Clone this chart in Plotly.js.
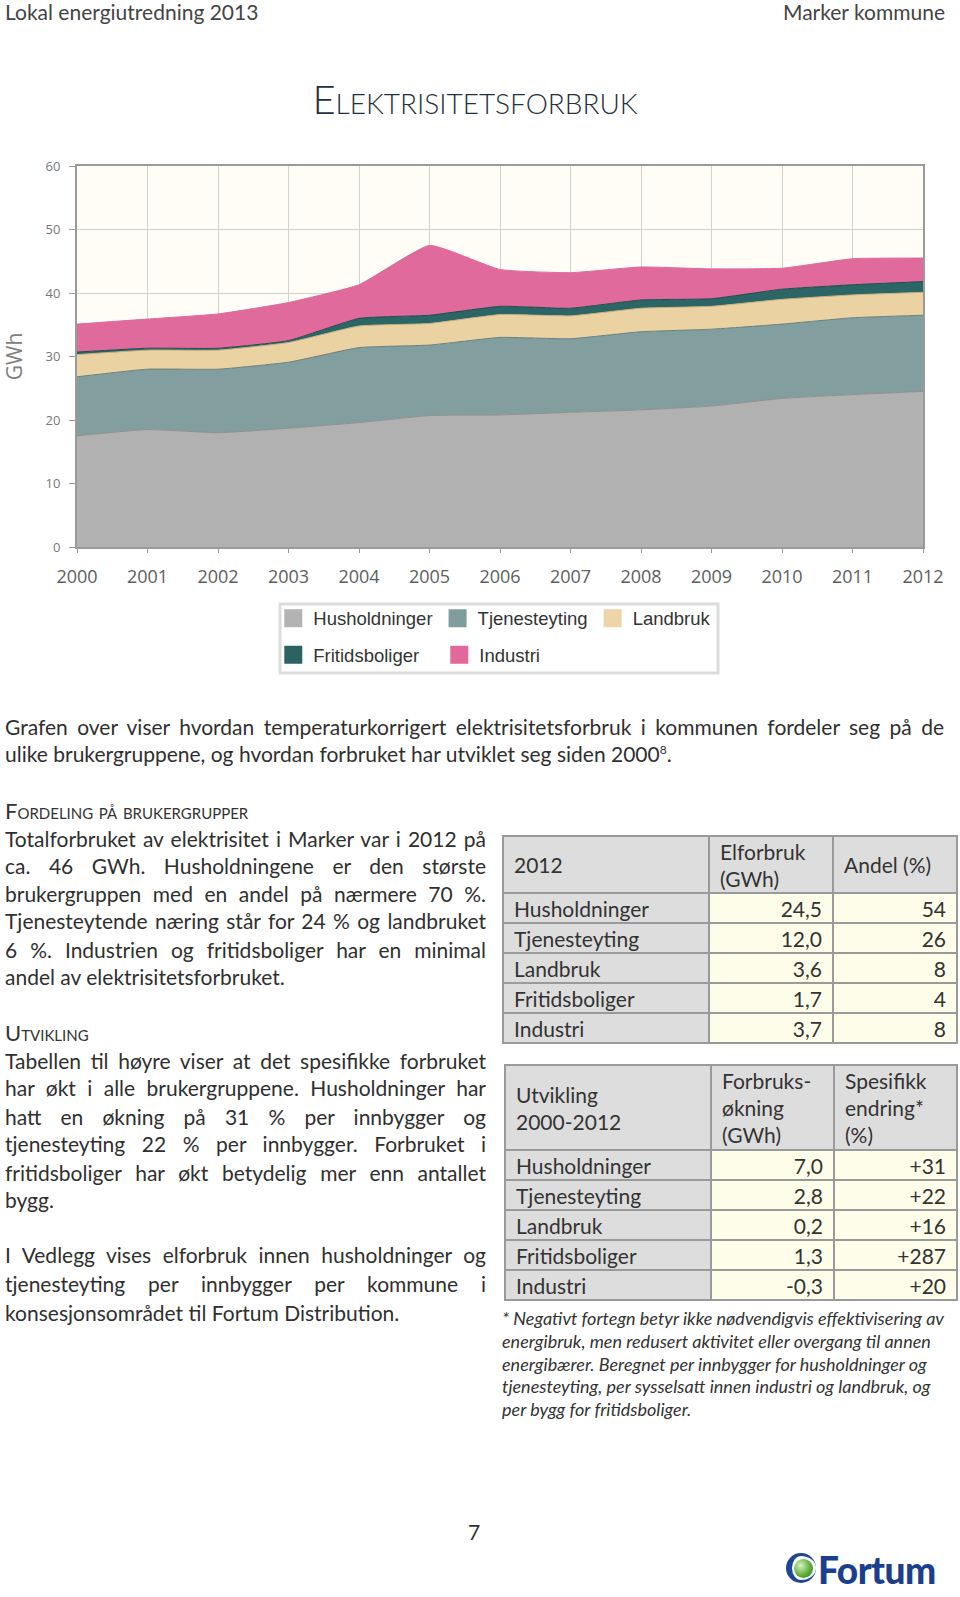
<!DOCTYPE html>
<html>
<head>
<meta charset="utf-8">
<script src="https://cdn.plot.ly/plotly-3.0.1.min.js"></script>
<style>
html,body{margin:0;padding:0;background:#fff;}
body{width:960px;height:1597px;position:relative;overflow:hidden;font-family:Lato,"Open Sans",sans-serif;color:#2f2f2f;}
.t{position:absolute;white-space:nowrap;font-size:21px;line-height:28px;height:28px;}
.j{position:absolute;font-size:21px;line-height:28px;height:28px;text-align:justify;text-align-last:justify;white-space:normal;overflow:hidden;}
.sc{font-variant:small-caps;}
table.dt{position:absolute;border-collapse:collapse;font-family:Lato,sans-serif;font-size:21px;color:#333;}
table.dt td{border:2px solid #9a9a9a;padding:0 10px;line-height:27px;}
table.dt td.h{background:#dddddd;vertical-align:middle;text-align:left;}
table.dt td.l{background:#dddddd;text-align:left;}
table.dt td.n{background:#fdfde9;text-align:right;}
.fn{position:absolute;white-space:nowrap;font-style:italic;font-size:18px;line-height:22.7px;color:#333;}
</style>
</head>
<body>
<div class="t" style="left:5px;top:-2px;color:#444;">Lokal energiutredning 2013</div>
<div class="t" style="right:15px;top:-2px;color:#444;">Marker kommune</div>
<div class="t sc" style="left:0;width:950px;text-align:center;top:74px;height:50px;line-height:50px;font-size:40px;font-weight:300;color:#25303e;">Elektrisitetsforbruk</div>

<div id="chart" style="position:absolute;left:0;top:140px;width:960px;height:550px;"></div>

<div class="j" style="left:5px;top:713px;width:939px;">Grafen over viser hvordan temperaturkorrigert elektrisitetsforbruk i kommunen fordeler seg på de</div>
<div class="t" style="left:5px;top:740px;">ulike brukergruppene, og hvordan forbruket har utviklet seg siden 2000<sup style="font-size:12px;line-height:0;">8</sup>.</div>

<div class="t sc" style="left:5px;top:797px;font-size:22px;color:#333;">Fordeling på brukergrupper</div>
<div class="j" style="left:5px;top:825px;width:481px;">Totalforbruket av elektrisitet i Marker var i 2012 på</div>
<div class="j" style="left:5px;top:852px;width:481px;">ca. 46 GWh. Husholdningene er den største</div>
<div class="j" style="left:5px;top:880px;width:481px;">brukergruppen med en andel på nærmere 70 %.</div>
<div class="j" style="left:5px;top:907px;width:481px;">Tjenesteytende næring står for 24 % og landbruket</div>
<div class="j" style="left:5px;top:936px;width:481px;">6 %. Industrien og fritidsboliger har en minimal</div>
<div class="t" style="left:5px;top:963px;">andel av elektrisitetsforbruket.</div>

<div class="t sc" style="left:5px;top:1019px;font-size:22px;color:#333;">Utvikling</div>
<div class="j" style="left:5px;top:1047px;width:481px;">Tabellen til høyre viser at det spesifikke forbruket</div>
<div class="j" style="left:5px;top:1074px;width:481px;">har økt i alle brukergruppene. Husholdninger har</div>
<div class="j" style="left:5px;top:1103px;width:481px;">hatt en økning på 31 % per innbygger og</div>
<div class="j" style="left:5px;top:1130px;width:481px;">tjenesteyting 22 % per innbygger. Forbruket i</div>
<div class="j" style="left:5px;top:1159px;width:481px;">fritidsboliger har økt betydelig mer enn antallet</div>
<div class="t" style="left:5px;top:1186px;">bygg.</div>
<div class="j" style="left:5px;top:1241px;width:481px;">I Vedlegg vises elforbruk innen husholdninger og</div>
<div class="j" style="left:5px;top:1270px;width:481px;">tjenesteyting per innbygger per kommune i</div>
<div class="t" style="left:5px;top:1299px;">konsesjonsområdet til Fortum Distribution.</div>

<table class="dt" id="tab1" style="left:502px;top:835px;"></table>
<table class="dt" id="tab2" style="left:504px;top:1064px;"></table>

<div class="fn" style="left:502px;top:1307px;">* Negativt fortegn betyr ikke nødvendigvis effektivisering av</div>
<div class="fn" style="left:502px;top:1330px;">energibruk, men redusert aktivitet eller overgang til annen</div>
<div class="fn" style="left:502px;top:1353px;">energibærer. Beregnet per innbygger for husholdninger og</div>
<div class="fn" style="left:502px;top:1375px;">tjenesteyting, per sysselsatt innen industri og landbruk, og</div>
<div class="fn" style="left:502px;top:1398px;">per bygg for fritidsboliger.</div>

<div class="t" style="left:468px;top:1518px;">7</div>

<div style="position:absolute;left:786px;top:1553px;width:34px;height:34px;">
  <div style="position:absolute;left:0;top:0;width:30px;height:30px;border-radius:50%;border-left:6px solid #1d4697;border-top:3px solid #1d4697;border-bottom:3px solid #1d4697;border-right:0 solid transparent;box-sizing:border-box;"></div>
  <div style="position:absolute;left:8px;top:6px;width:19px;height:19px;border-radius:50%;background:radial-gradient(circle at 35% 35%,#d9f2c0,#5fae3c 55%,#2e7a25);"></div>
</div>
<div class="t" style="left:818px;top:1550px;height:40px;line-height:40px;font-size:37px;font-weight:900;color:#1b3f8e;letter-spacing:-0.5px;">Fortum</div>

<script>
// ---- chart data (GWh) ----
const years = [2000, 2001, 2002, 2003, 2004, 2005, 2006, 2007, 2008, 2009, 2010, 2011, 2012];
const husholdninger  = [17.5, 18.5, 18.0, 18.7, 19.6, 20.7, 20.8, 21.2, 21.6, 22.2, 23.4, 24.0, 24.5];
const tjenesteyting  = [9.3, 9.5, 10.0, 10.4, 11.8, 11.1, 12.2, 11.6, 12.3, 12.1, 11.7, 12.1, 12.0];
const landbruk       = [3.5, 3.0, 3.0, 3.1, 3.4, 3.4, 3.6, 3.6, 3.7, 3.6, 3.9, 3.6, 3.6];
const fritidsboliger = [0.4, 0.3, 0.3, 0.3, 1.2, 1.3, 1.3, 1.2, 1.3, 1.2, 1.6, 1.6, 1.7];
const industri       = [4.4, 4.6, 5.4, 6.0, 5.3, 11.0, 5.8, 5.6, 5.2, 4.7, 3.3, 4.1, 3.7];
const seriesNames = ['Husholdninger', 'Tjenesteyting', 'Landbruk', 'Fritidsboliger', 'Industri'];
const yTicks = [0, 10, 20, 30, 40, 50, 60];

// ---- table data ----
const tab1Header = ['2012', 'Elforbruk<br>(GWh)', 'Andel (%)'];
const tab1Elforbruk = ['24,5', '12,0', '3,6', '1,7', '3,7'];
const tab1Andel = ['54', '26', '8', '4', '8'];
const tab2Header = ['Utvikling<br>2000-2012', 'Forbruks-<br>økning<br>(GWh)', 'Spesifikk<br>endring*<br>(%)'];
const tab2Okning = ['7,0', '2,8', '0,2', '1,3', '-0,3'];
const tab2Endring = ['+31', '+22', '+16', '+287', '+20'];

const fillColors = ['#b1b1b1', '#839e9e', '#ebd2a3', '#2c6565', '#df6a9b'];
const lineColors = ['#8f8f8f', '#667f7f', '#c9b07f', '#1d4c4c', '#df6a9b'];
const legendColors = ['#b3b3b3', '#809d9d', '#eed5a8', '#2b6363', '#e0689b'];
const values = [husholdninger, tjenesteyting, landbruk, fritidsboliger, industri];

const traces = [];
values.forEach((v, i) => {
  traces.push({
    type: 'scatter', x: years, y: v, name: seriesNames[i],
    stackgroup: 'one', mode: 'lines',
    line: {shape: 'spline', smoothing: 0.4, width: 1, color: lineColors[i]},
    fillcolor: fillColors[i], showlegend: false, hoverinfo: 'skip'
  });
});
values.forEach((v, i) => {
  traces.push({
    type: 'scatter', x: [null], y: [null], name: seriesNames[i], mode: 'markers',
    marker: {symbol: 'square', size: 16, color: legendColors[i], line: {color: legendColors[i], width: 2}},
    legend: i < 3 ? 'legend' : 'legend2', showlegend: true, hoverinfo: 'skip'
  });
});

const legFont = {family: 'Liberation Sans, Arial, sans-serif', size: 18.5, color: '#333'};
const layout = {
  width: 960, height: 550,
  margin: {l: 77, r: 37, t: 26, b: 143},
  paper_bgcolor: 'rgba(0,0,0,0)',
  plot_bgcolor: '#fffdf6',
  xaxis: {
    range: [2000, 2012], tickvals: years, ticktext: years.map(String),
    showgrid: true, gridcolor: '#d2d2d2', gridwidth: 1,
    showline: true, mirror: true, linecolor: '#9a9a9a', linewidth: 2,
    ticks: 'outside', ticklen: 4, tickcolor: '#9a9a9a', ticklabelstandoff: 8,
    tickfont: {family: 'Open Sans, sans-serif', size: 18, color: '#5e5e5e'},
    zeroline: false, fixedrange: true
  },
  yaxis: {
    range: [0, 60], tickvals: yTicks,
    showgrid: true, gridcolor: '#d2d2d2', gridwidth: 1,
    showline: true, mirror: true, linecolor: '#9a9a9a', linewidth: 2,
    ticks: 'outside', ticklen: 6, tickcolor: '#9a9a9a', ticklabelstandoff: 6,
    tickfont: {family: 'Open Sans, sans-serif', size: 13, color: '#777'},
    title: {text: 'GWh', font: {family: 'Open Sans, sans-serif', size: 21, color: '#808080'}, standoff: 20},
    zeroline: false, fixedrange: true
  },
  legend: {orientation: 'h', x: 0.232, xanchor: 'left', y: -0.188, yanchor: 'middle', traceorder: 'normal',
           font: legFont, bgcolor: 'rgba(0,0,0,0)', borderwidth: 0},
  legend2: {orientation: 'h', x: 0.232, xanchor: 'left', y: -0.284, yanchor: 'middle', traceorder: 'normal',
           entrywidth: 121, font: legFont, bgcolor: 'rgba(0,0,0,0)', borderwidth: 0},
  shapes: [{type: 'rect', xref: 'paper', yref: 'paper', x0: 0.24, x1: 0.7577, y0: -0.1496, y1: -0.3307,
            line: {color: '#dcdcdc', width: 3}, fillcolor: '#ffffff', layer: 'below'}],
  showlegend: true
};
Plotly.newPlot('chart', traces, layout, {displayModeBar: false, staticPlot: true});

// ---- tables ----
function buildTable(id, header, headH, colW, c1, c2) {
  const t = document.getElementById(id);
  let html = '<tr style="height:' + headH + 'px">';
  header.forEach((h, k) => { html += '<td class="h" style="width:' + (colW[k] - 22) + 'px">' + h + '</td>'; });
  html += '</tr>';
  seriesNames.forEach((n, r) => {
    html += '<tr style="height:30px"><td class="l">' + n + '</td><td class="n">' + c1[r] + '</td><td class="n">' + c2[r] + '</td></tr>';
  });
  t.innerHTML = html;
}
buildTable('tab1', tab1Header, 57, [206, 124, 124], tab1Elforbruk, tab1Andel);
buildTable('tab2', tab2Header, 85, [206, 123, 123], tab2Okning, tab2Endring);
</script>
</body>
</html>
